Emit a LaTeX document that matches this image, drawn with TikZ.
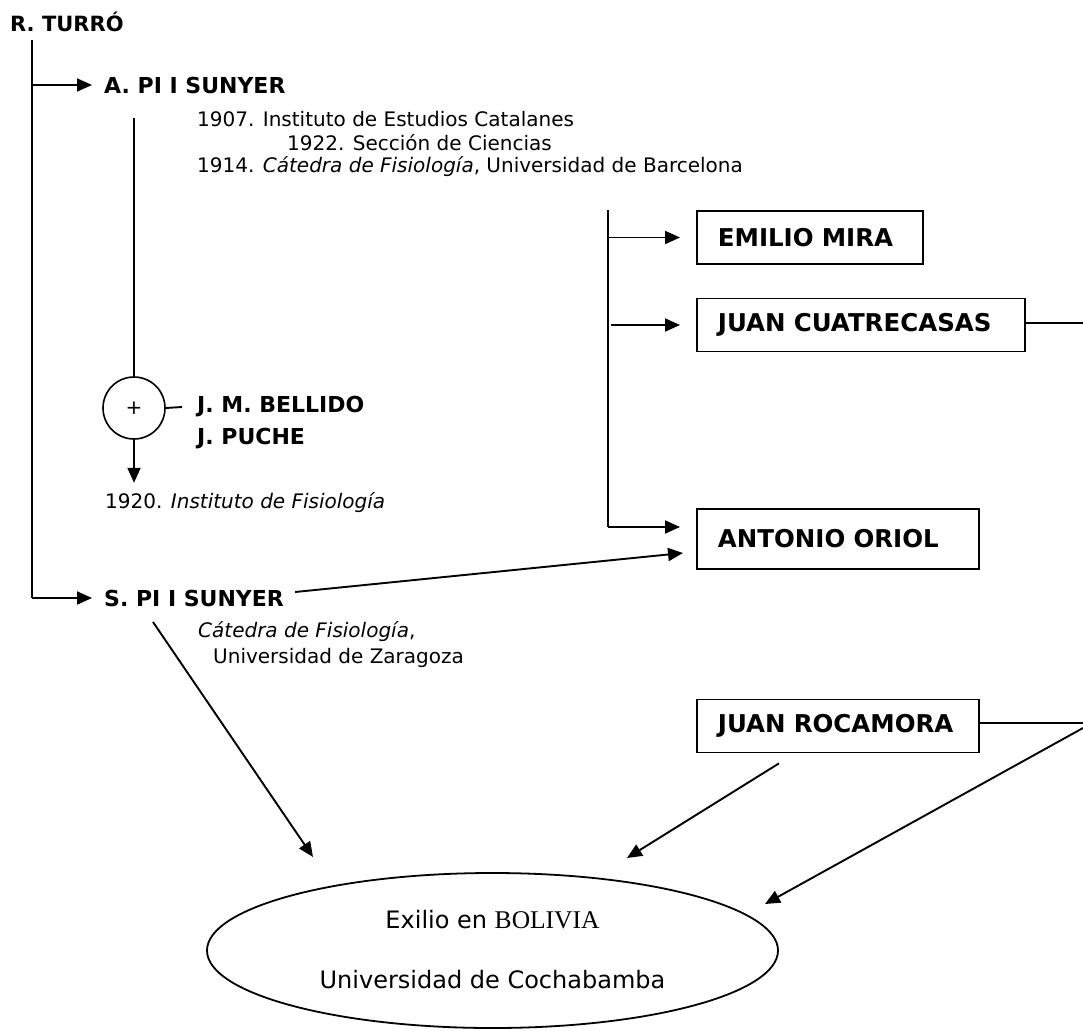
\documentclass[tikz,border=0pt]{standalone}
\usepackage{fontspec}
\setmainfont{DejaVu Sans}
\newfontfamily\romanfont{Liberation Serif}
\usetikzlibrary{arrows.meta,shapes.geometric}

\begin{document}
\begin{tikzpicture}
                [
                x=1pt,y=-1pt,
                font=\fontsize{20}{24}\selectfont,
                person/.style={anchor=west,inner sep=0pt,font=\fontsize{22}{26}\selectfont\bfseries},
                txt/.style={anchor=west,inner sep=0pt},
                box/.style={draw,line width=1.8pt,anchor=west,align=left,inner xsep=21pt,minimum height=53pt,font=\fontsize{24.5}{28}\selectfont\bfseries},
                line/.style={line width=1.9pt},
                edge/.style={line,-{Triangle[length=15pt,width=13pt]}}
                ]
            \useasboundingbox (0,0) rectangle (1083,1030);
            % left column
            \node[person,font=\fontsize{21}{25}\selectfont\bfseries] (turro) at (10,22) {R. TURRÓ};
            \node[person] (api) at (104,85) {A. PI I SUNYER};
            \node[txt] (iec) at (197,119) {1907. Instituto de Estudios Catalanes};
            \node[txt] (seccion) at (287,143) {1922. Sección de Ciencias};
            \node[txt] (catedra) at (197,167) {1914. \textit{Cátedra de Fisiología}, Universidad de Barcelona};
            \node[circle,draw,line width=1.6pt,minimum size=62pt,inner sep=0pt] (plus) at (134,408) {+};
            \node[person] (bellido) at (197,407) {J. M. BELLIDO};
            \node[person] (puche) at (197,439) {J. PUCHE};
            \node[txt] (instituto) at (105,503) {1920. \textit{Instituto de Fisiología}};
            \node[person] (spi) at (104,598) {S. PI I SUNYER};
            \node[txt] (zaragoza) at (198,632) {\textit{Cátedra de Fisiología},};
            \node[txt] (zaragozab) at (213,658) {Universidad de Zaragoza};
            % boxes
            \node[box,text width=184pt] (mira) at (696,237.5) {EMILIO MIRA};
            \node[box,text width=286pt] (cuatrecasas) at (696,325) {JUAN CUATRECASAS};
            \node[box,text width=240pt,minimum height=60pt] (oriol) at (696,539) {ANTONIO ORIOL};
            \node[box,text width=240pt] (rocamora) at (696,726) {JUAN ROCAMORA};
            % exile
            \node[ellipse,draw,line width=1.8pt,minimum width=571pt,minimum height=155pt] (bolivia) at (492.5,950.5) {};
            \node[txt,anchor=center,font=\fontsize{24}{28}\selectfont] (exilio) at (492.5,920) {Exilio en {\romanfont\fontsize{25.5}{28}\selectfont BOLIVIA}};
            \node[txt,anchor=center,font=\fontsize{24}{28}\selectfont] (cochabamba) at (492.5,980) {Universidad de Cochabamba};
            \coordinate (trunk) at (32,40);
            \coordinate (apistem) at (134,118);
            \coordinate (branch) at (608,210);
            \coordinate (eastA) at (1083,323);
            \coordinate (eastB) at (1083,723);
            \coordinate (tipS) at (313,857);
            \coordinate (tipR) at (627,858);
            \coordinate (tipC) at (765,904);
            % connectors
            \draw[line] (trunk) -- (trunk |- spi.west);
            \draw[edge] (trunk |- api.west) -- ([xshift=-12pt]api.west);
            \draw[edge] (trunk |- spi.west) -- ([xshift=-12pt]spi.west);
            \draw[line] (apistem) -- (plus.north);
            \draw[line] (plus.east) -- ([xshift=-15pt]bellido.west);
            \draw[edge] (plus.south) -- ++(0,43);
            \draw[line] (branch) -- (branch |- 0,527);
            \draw[edge] (branch |- mira.west) -- ([xshift=-16pt]mira.west);
            \draw[edge] ([xshift=3pt]branch |- cuatrecasas.west) -- ([xshift=-16pt]cuatrecasas.west);
            \draw[edge] (branch |- 0,527) -- ([shift={(-16,-12)}]oriol.west);
            \draw[edge] ([shift={(11,-6)}]spi.east) -- ([shift={(-13,14)}]oriol.west);
            \draw[line] (cuatrecasas.east |- eastA) -- (eastA);
            \draw[line] (rocamora.east |- eastB) -- (eastB);
            \draw[edge] ([yshift=-5pt]eastB) -- (tipC);
            \draw[edge] ([shift={(-59,10)}]rocamora.south) -- (tipR);
            \draw[edge] ([shift={(49,24)}]spi.west) -- (tipS);
\end{tikzpicture}
\end{document}
